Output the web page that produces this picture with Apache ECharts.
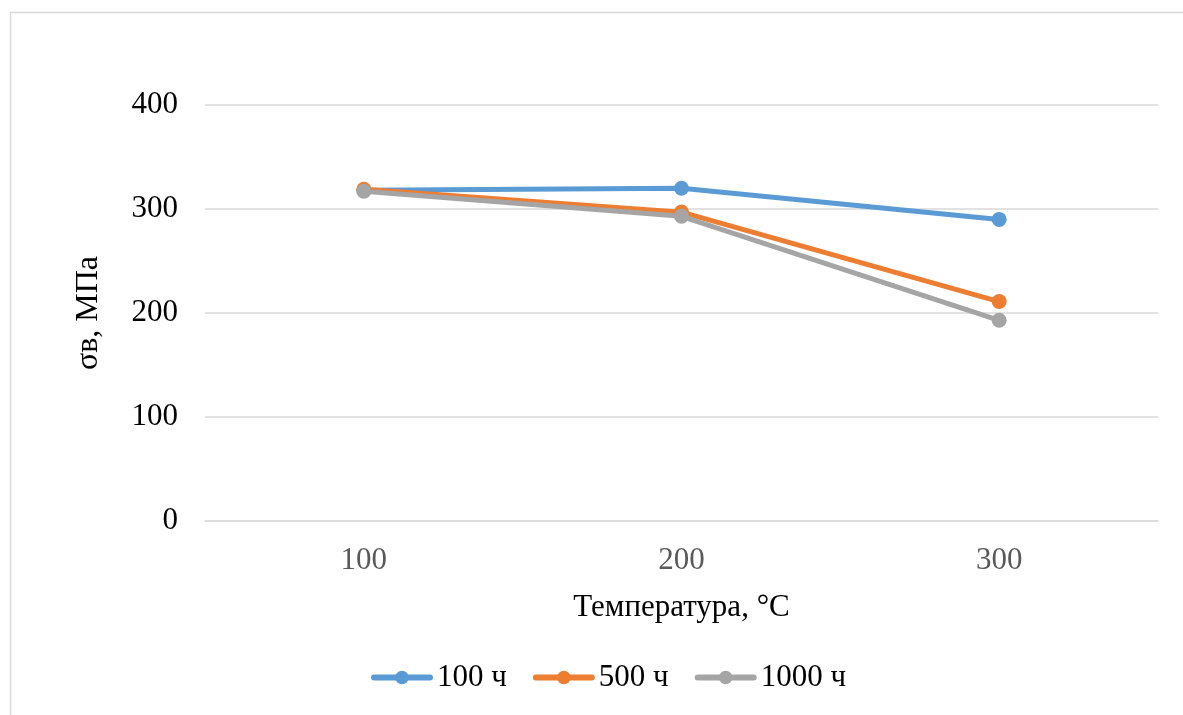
<!DOCTYPE html>
<html>
<head>
<meta charset="utf-8">
<script src="https://cdn.jsdelivr.net/npm/echarts@6/dist/echarts.min.js"></script>
<style>
html,body{margin:0;padding:0;background:#fff;}
#chart{width:1183px;height:715px;}
</style>
</head>
<body>
<div id="chart"></div>
<script>
const categories = ['100', '200', '300'];
const seriesNames = ['100 ч', '500 ч', '1000 ч'];
const values100h = [318, 320, 290];
const values500h = [319, 297, 211];
const values1000h = [317, 293, 193];
const colors = ['#5B9BD5', '#ED7D31', '#A5A5A5'];
const xTitle = 'Температура, °C';
const yTitle = 'σв, МПа';

const font = '"Liberation Serif", "Times New Roman", serif';
const chart = echarts.init(document.getElementById('chart'));

function mkSeries(name, data, color) {
  return {
    name: name, type: 'line', data: data,
    symbol: 'circle', symbolSize: 15,
    lineStyle: { width: 5, color: color, cap: 'round', join: 'round' },
    itemStyle: { color: color },
    emphasis: { disabled: true }
  };
}

chart.setOption({
  animation: false,
  textStyle: { fontFamily: font },
  graphic: [{
    type: 'rect', silent: true,
    shape: { x: 10.5, y: 12.5, width: 1250, height: 800 },
    style: { fill: 'none', stroke: '#D9D9D9', lineWidth: 1.5 }
  }],
  grid: { left: 205, right: 25, top: 105, bottom: 194 },
  legend: {
    bottom: 17, left: 366,
    itemWidth: 56, itemHeight: 17, itemGap: 26,
    lineStyle: { width: 6, cap: 'round' },
    textStyle: { fontFamily: font, fontSize: 31, color: '#000', padding: [0, 0, 0, 2] },
    data: seriesNames
  },
  xAxis: {
    type: 'category', data: categories, boundaryGap: true,
    name: xTitle, nameLocation: 'middle', nameGap: 71,
    nameTextStyle: { fontFamily: font, fontSize: 31, color: '#000' },
    axisLine: { show: true, lineStyle: { color: '#D9D9D9', width: 1.5 } },
    axisTick: { show: false },
    axisLabel: { fontFamily: font, fontSize: 31, color: '#595959', margin: 24 }
  },
  yAxis: {
    type: 'value', min: 0, max: 400, interval: 100,
    name: yTitle, nameLocation: 'middle', nameGap: 100, nameRotate: 90,
    nameTextStyle: { fontFamily: font, fontSize: 32, color: '#000' },
    axisLine: { show: false }, axisTick: { show: false },
    axisLabel: { fontFamily: font, fontSize: 31, color: '#000', margin: 27 },
    splitLine: { lineStyle: { color: '#D9D9D9', width: 1.5 } }
  },
  series: [
    mkSeries(seriesNames[0], values100h, colors[0]),
    mkSeries(seriesNames[1], values500h, colors[1]),
    mkSeries(seriesNames[2], values1000h, colors[2])
  ]
});
</script>
</body>
</html>
